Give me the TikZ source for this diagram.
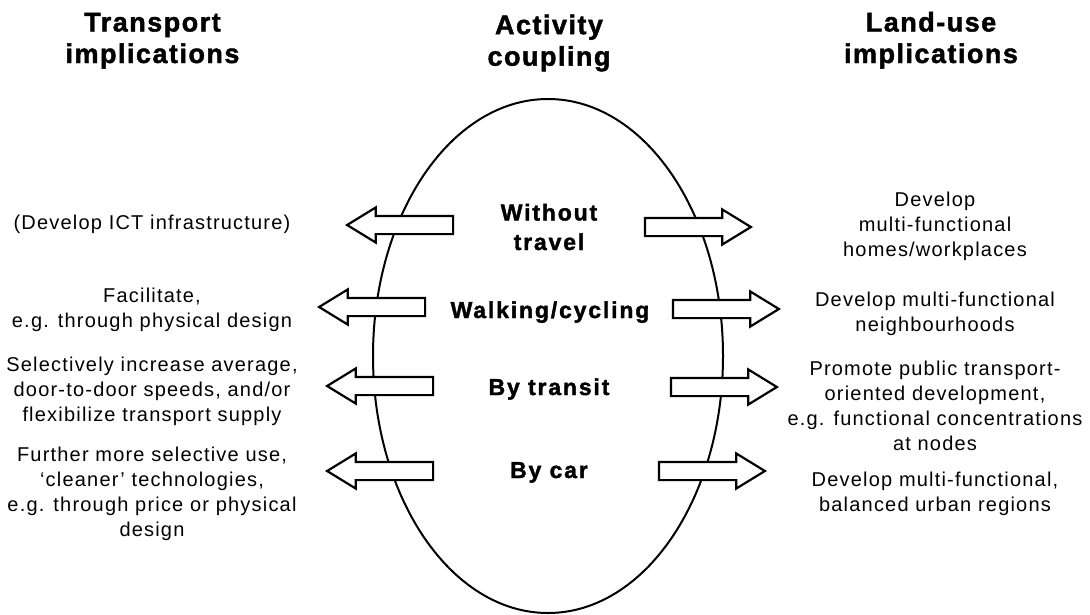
\documentclass[tikz,border=0pt]{standalone}
\usepackage{fontspec}
\setmainfont{Liberation Sans}
\newfontfamily\headfont[LetterSpace=5.5, BoldFeatures={FakeBold=1.6}]{Liberation Sans}
\newfontfamily\modefont[LetterSpace=8, BoldFeatures={FakeBold=1.6}]{Liberation Sans}
\newfontfamily\notefont[LetterSpace=6]{Liberation Sans}
\usetikzlibrary{shapes.geometric, shapes.arrows}
% anchor=base sits on the last line of a node
\tikzstyle{heading} = [font=\headfont\bfseries\fontsize{27}{31.5}\selectfont, align=center, anchor=base, inner sep=0pt]
\tikzstyle{mode} = [font=\modefont\bfseries\fontsize{23}{29.5}\selectfont, align=center, anchor=base, inner sep=0pt]
\tikzstyle{note} = [font=\notefont\fontsize{20}{25}\selectfont, align=center, anchor=base, inner sep=0pt]
\tikzstyle{coupling} = [ellipse, draw=black, line width=2pt, minimum width=350pt, minimum height=514pt, inner sep=0pt]
\tikzstyle{blockarrow} = [single arrow, draw=black, fill=white, line width=2.2pt, minimum height=106pt, minimum width=33pt, single arrow head extend=8.5pt, single arrow tip angle=63, inner xsep=0pt, inner ysep=8pt, anchor=tip]
\tikzstyle{toleft} = [blockarrow, shape border rotate=180]
\tikzstyle{toright} = [blockarrow]

\begin{document}
\begin{tikzpicture}[x=1pt, y=-1pt]
	\useasboundingbox (0,0) rectangle (1090,614);
	% column headings
	\node (transport) [heading] at (152.5,63) {Transport\\implications};
	\node (activity) [heading] at (549,65.7) {Activity\\coupling};
	\node (landuse) [heading] at (931,63) {Land-use\\implications};
	% the coupling ellipse and its arrows
	\node (ring) [coupling] at (548,356) {};
	\node (tl1) [toleft] at (345,225) {};
	\node (tl2) [toleft] at (317,307) {};
	\node (tl3) [toleft] at (325,386) {};
	\node (tl4) [toleft] at (325,471) {};
	\node (lu1) [toright] at (753,227) {};
	\node (lu2) [toright] at (781,309) {};
	\node (lu3) [toright] at (779,387) {};
	\node (lu4) [toright] at (767,471) {};
	% modes inside the ellipse
	\node (notravel) [mode] at (549,250) {Without\\travel};
	\node (walk) [mode] at (550,318) {Walking/cycling};
	\node (transit) [mode] at (549,395) {By transit};
	\node (car) [mode] at (549,478) {By car};
	% transport side
	\node (ict) [note] at (152,229) {(Develop ICT infrastructure)};
	\node (facilitate) [note] at (152,327.7) {Facilitate,\\e.g. through physical design};
	\node (speeds) [note] at (152,421.7) {Selectively increase average,\\door-to-door speeds, and/or\\flexibilize transport supply};
	\node (cleaner) [note] at (152,536.7) {Further more selective use,\\‘cleaner’ technologies,\\e.g. through price or physical\\design};
	% land-use side
	\node (homes) [note] at (935,256) {Develop\\multi-functional\\homes/workplaces};
	\node (hoods) [note] at (935,331) {Develop multi-functional\\neighbourhoods};
	\node (tod) [note] at (935,450) {Promote public transport-\\oriented development,\\e.g. functional concentrations\\at nodes};
	\node (regions) [note] at (935,511.7) {Develop multi-functional,\\balanced urban regions};
\end{tikzpicture}
\end{document}
